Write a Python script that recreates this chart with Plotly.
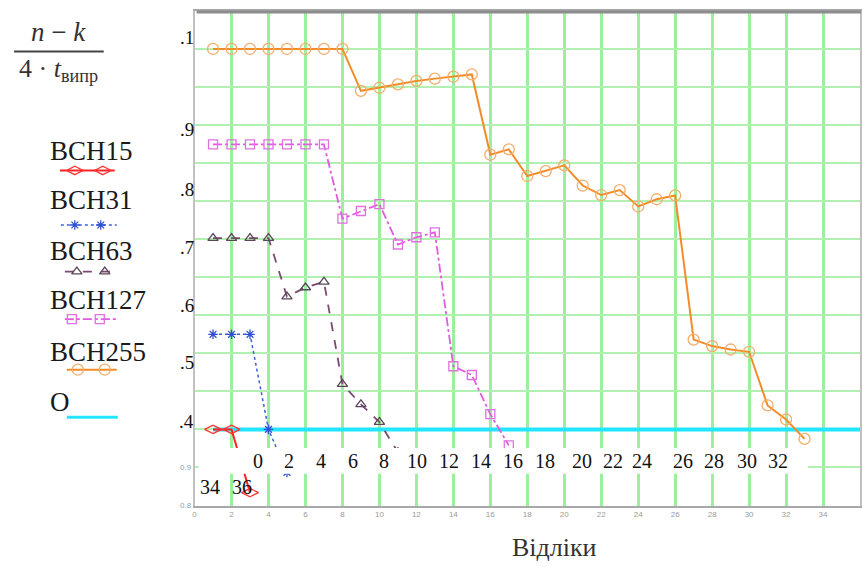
import plotly.graph_objects as go

# ---------------- data ----------------
x15 = [1, 2, 3]
y15 = [1.0, 1.0, 0.834]

x31 = [1, 2, 3, 4, 5]
y31 = [1.25, 1.25, 1.25, 1.0, 0.887]

x63 = [1, 2, 3, 4, 5, 6, 7, 8, 9, 10, 11]
y63 = [1.503, 1.503, 1.503, 1.503, 1.349, 1.373, 1.388, 1.119, 1.066, 1.019, 0.94]

x127 = [1, 2, 3, 4, 5, 6, 7, 8, 9, 10, 11, 12, 13, 14, 15, 16, 17]
y127 = [1.749, 1.749, 1.749, 1.749, 1.749, 1.749, 1.749, 1.554, 1.574, 1.592,
        1.486, 1.505, 1.518, 1.166, 1.143, 1.040, 0.958]

x255 = list(range(1, 34))
y255 = [2.0, 2.0, 2.0, 2.0, 2.0, 2.0, 2.0, 2.0, 1.890, 1.898, 1.907, 1.916,
        1.922, 1.927, 1.933, 1.722, 1.736, 1.666, 1.679, 1.694, 1.641, 1.616,
        1.629, 1.586, 1.605, 1.615, 1.236, 1.219, 1.210, 1.204, 1.063, 1.026, 0.975]

xO = [1, 36]
yO = [1.0, 1.0]

series_names = ["BCH15", "BCH31", "BCH63", "BCH127", "BCH255", "O"]

x_tick_vals = [0, 2, 4, 6, 8, 10, 12, 14, 16, 18, 20, 22, 24, 26, 28, 30, 32, 34, 36]
x_tick_text = [str(v) for v in x_tick_vals]
y_tick_vals = [0.8, 0.9, 1.0, 1.1, 1.2, 1.3, 1.4, 1.5, 1.6, 1.7, 1.8, 1.9, 2.0, 2.1]
y_tick_text = ["0.8", "0.9", "", "", "", "", "", "", "", "", "", "", "", ""]

overlay_y_labels = [".1", ".9", ".8", ".7", ".6", ".5", ".4"]
overlay_x_labels = ["0", "2", "4", "6", "8", "10", "12", "14", "16", "18",
                    "20", "22", "24", "26", "28", "30", "32"]
overlay_x_labels2 = ["34", "36"]

x_title = "Відліки"

# ---------------- styles / layout positions ----------------
W, H = 863, 567
SERIF = "Liberation Serif"

styles = {
    "BCH15": dict(color="#ff2222", dash="solid", width=2, symbol="diamond-wide-open", msize=12, mcolor="#ff3030"),
    "BCH31": dict(color="#3a62d8", dash="dot", width=1.5, symbol="asterisk-open", msize=8, mcolor="#3050d0"),
    "BCH63": dict(color="#7a4a70", dash="dash", width=1.8, symbol="triangle-up-open", msize=9, mcolor="#5a4656"),
    "BCH127": dict(color="#e25ae2", dash="dashdot", width=1.8, symbol="square-open", msize=9, mcolor="#e070e0"),
    "BCH255": dict(color="#f28c28", dash="solid", width=2, symbol="circle-open", msize=11, mcolor="#f5ad6b"),
}

fig = go.Figure()

data = {"BCH15": (x15, y15), "BCH31": (x31, y31), "BCH63": (x63, y63),
        "BCH127": (x127, y127), "BCH255": (x255, y255)}

fig.add_trace(go.Scatter(x=xO, y=yO, mode="lines", line=dict(color="#22e6ff", width=4),
                         showlegend=False, xaxis="x", yaxis="y"))

for name in ["BCH255", "BCH127", "BCH63", "BCH31", "BCH15"]:
    s = styles[name]
    xs, ys = data[name]
    fig.add_trace(go.Scatter(
        x=xs, y=ys, mode="lines+markers", name=name, showlegend=False,
        line=dict(color=s["color"], dash=s["dash"], width=s["width"]),
        marker=dict(symbol=s["symbol"], size=s["msize"], color=s["mcolor"],
                    line=dict(width=1.3, color=s["mcolor"])),
        xaxis="x", yaxis="y"))

# legend samples (decorative glyphs, drawn in pixel overlay axes)
legend_rows = [("BCH15", 152, 172, 58, 113, [73, 101]),
               ("BCH31", 202, 227, 59, 115, [73, 99]),
               ("BCH63", 253, 274, 63, 115, [75, 103]),
               ("BCH127", 303, 322, 63, 115, [70, 98]),
               ("BCH255", 355, 373, 65, 115, [76, 103])]
for name, ty, ly, lx0, lx1, mxs in legend_rows:
    s = styles[name]
    fig.add_trace(go.Scatter(x=[lx0, lx1], y=[ly, ly], mode="lines",
                             line=dict(color=s["color"], dash=s["dash"], width=s["width"]),
                             showlegend=False, xaxis="x2", yaxis="y2", hoverinfo="skip"))
    fig.add_trace(go.Scatter(x=mxs, y=[ly, ly], mode="markers",
                             marker=dict(symbol=s["symbol"], size=s["msize"], color=s["mcolor"],
                                         line=dict(width=1.3, color=s["mcolor"])),
                             showlegend=False, xaxis="x2", yaxis="y2", hoverinfo="skip"))
fig.add_trace(go.Scatter(x=[65, 116], y=[421, 421], mode="lines",
                         line=dict(color="#22e6ff", width=3), showlegend=False,
                         xaxis="x2", yaxis="y2", hoverinfo="skip"))

annotations = []
for name, ty, ly, lx0, lx1, mxs in legend_rows:
    annotations.append(dict(x=46, y=ty, xref="x2", yref="y2", text=name, showarrow=False,
                            xanchor="left", yanchor="middle",
                            font=dict(family=SERIF, size=27, color="#1a1a1a")))
annotations.append(dict(x=46, y=406, xref="x2", yref="y2", text=series_names[5], showarrow=False,
                        xanchor="left", yanchor="middle",
                        font=dict(family=SERIF, size=27, color="#1a1a1a")))

# formula (y-axis title)
annotations.append(dict(x=57, y=32, xref="x2", yref="y2", text="<i>n</i> − <i>k</i>",
                        showarrow=False, xanchor="center", yanchor="middle",
                        font=dict(family=SERIF, size=27, color="#333")))
annotations.append(dict(x=57, y=71, xref="x2", yref="y2",
                        text="4 · <i>t</i><sub>випр</sub>",
                        showarrow=False, xanchor="center", yanchor="middle",
                        font=dict(family=SERIF, size=26, color="#333")))

# overlaid big y labels
ylab_pos = [38, 131, 191, 250, 308, 366, 425]
for t, py in zip(overlay_y_labels, ylab_pos):
    annotations.append(dict(x=194, y=py, xref="x2", yref="y2", text=t, showarrow=False,
                            xanchor="right", yanchor="middle",
                            font=dict(family=SERIF, size=19, color="#111")))

# overlaid big x labels
xlab_pos = [257, 288, 320, 352, 383, 416, 448, 480, 512, 544, 581, 612, 641, 683, 714, 747, 778]
for t, px in zip(overlay_x_labels, xlab_pos):
    annotations.append(dict(x=px, y=465, xref="x2", yref="y2", text=t, showarrow=False,
                            xanchor="center", yanchor="middle",
                            font=dict(family=SERIF, size=20, color="#111")))
for t, px in zip(overlay_x_labels2, [208, 241]):
    annotations.append(dict(x=px, y=491, xref="x2", yref="y2", text=t, showarrow=False,
                            xanchor="center", yanchor="middle",
                            font=dict(family=SERIF, size=20, color="#111")))

annotations.append(dict(x=554, y=552, xref="x2", yref="y2", text=x_title, showarrow=False,
                        xanchor="center", yanchor="middle",
                        font=dict(family=SERIF, size=26, color="#333")))

shapes = [
    dict(type="line", xref="x2", yref="y2", x0=12, x1=102, y0=52, y1=52,
         line=dict(color="#444", width=2)),
    dict(type="rect", xref="x2", yref="y2", x0=197, x1=808, y0=452, y1=478,
         fillcolor="white", line=dict(width=0), layer="above"),
    dict(type="line", xref="x2", yref="y2", x0=195, x1=861, y0=12, y1=12,
         line=dict(color="#8c8c8c", width=3), layer="above"),
]

fig.update_layout(
    width=W, height=H,
    margin=dict(l=0, r=0, t=0, b=0),
    paper_bgcolor="white", plot_bgcolor="rgba(0,0,0,0)",
    showlegend=False,
    xaxis=dict(domain=[193 / W, 860 / W], range=[0, 36], tickmode="array",
               tickvals=x_tick_vals, ticktext=x_tick_text,
               tickfont=dict(family="Arial", size=8, color="#9a9a9a"),
               showgrid=True, gridcolor="#9cef9c", gridwidth=3,
               showline=True, linecolor="#a8a8a8", linewidth=1.5, mirror=True,
               zeroline=False, ticks="", anchor="y", fixedrange=True),
    yaxis=dict(domain=[57 / H, 556 / H], range=[0.8, 2.1], tickmode="array",
               tickvals=y_tick_vals, ticktext=y_tick_text,
               tickfont=dict(family="Arial", size=8, color="#9a9a9a"),
               showgrid=True, gridcolor="#b2f0b2", gridwidth=2,
               showline=True, linecolor="#c0c0c0", linewidth=1.5, mirror=True,
               zeroline=False, ticks="", anchor="x", fixedrange=True),
    xaxis2=dict(domain=[0, 1], range=[0, W], visible=False, anchor="y2", fixedrange=True),
    yaxis2=dict(domain=[0, 1], range=[H, 0], visible=False, anchor="x2", fixedrange=True),
    annotations=annotations,
    shapes=shapes,
)

fig.write_html("out.html", config={"displayModeBar": False},
               post_script="document.body.style.margin='0';document.body.style.overflow='hidden';")
